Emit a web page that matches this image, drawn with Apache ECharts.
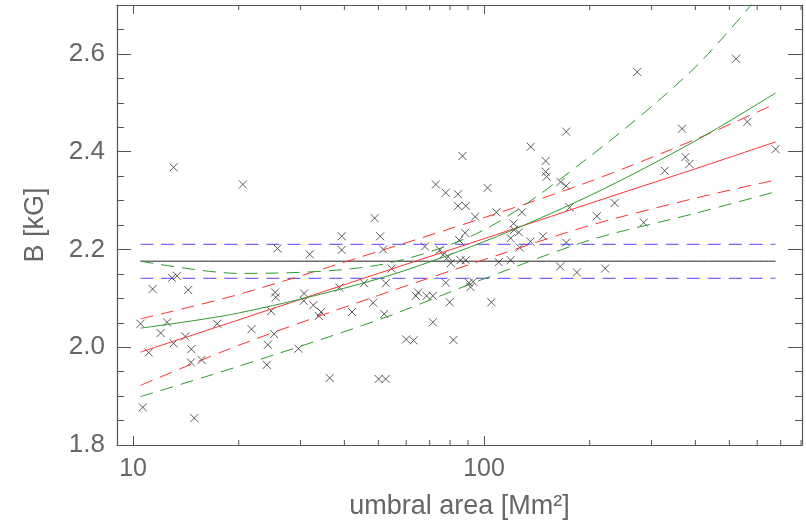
<!DOCTYPE html>
<html><head><meta charset="utf-8">
<script src="https://cdn.jsdelivr.net/npm/echarts@6/dist/echarts.min.js"></script>
<style>html,body{margin:0;background:#fff}#c{width:806px;height:527px}</style>
</head><body><div id="c"></div>
<script>
// umbral area [Mm^2] and B [kG]
var areas = [10.5,10.66,11.08,11.37,11.98,12.5,12.91,13.05,13.05,13.34,14.08,14.36,14.62,14.65,14.94,15.67,17.37,20.55,21.75,24.05,
  24.21,24.74,25.23,25.39,25.51,25.78,29.58,30.64,30.7,31.87,32.63,33.81,34.32,36.34,38.7,39.31,39.31,42.05,45.49,48.33,
  48.78,50.06,52.44,50.6,51.6,51.94,52.52,54.52,59.98,62.98,63.93,64.91,67.82,68.58,71.45,71.45,72.87,74.8,76.4,77.8,
  84.3,84.3,88.7,86.8,77.8,79.0,80.4,79.8,81.8,84.9,85.7,88.7,88.3,90.5,91.5,93.1,94.3,102.3,104.9,108.4,
  110.1,119.1,119.1,121.4,121.8,125.6,126.3,128.2,135.5,135.8,147.2,149.8,149.8,150.7,164.8,165.2,171.4,171.4,171.4,175.3,
  183.9,209.6,221.3,235.5,273.1,285,327.1,366.4,374.7,384.6,522.4,562.3,676.9];
var fields = [2.048,1.877,1.989,2.119,2.029,2.051,2.142,2.008,2.368,2.146,2.022,2.117,1.969,1.996,1.855,1.974,2.048,2.333,2.037,1.964,
  2.005,2.074,2.027,2.112,2.102,2.202,1.997,2.095,2.110,2.190,2.086,2.064,2.072,1.937,2.122,2.199,2.227,2.072,2.131,2.091,
  2.264,1.935,1.935,2.227,2.200,2.068,2.131,2.161,2.016,2.014,2.105,2.112,2.206,2.105,2.105,2.051,2.333,2.199,2.189,2.316,
  2.313,2.289,2.289,2.391,2.132,2.185,2.172,2.092,2.015,2.219,2.178,2.178,2.234,2.132,2.123,2.134,2.267,2.326,2.092,2.276,
  2.174,2.178,2.223,2.253,2.240,2.235,2.204,2.276,2.216,2.410,2.227,2.381,2.359,2.349,2.165,2.338,2.441,2.330,2.214,2.286,
  2.153,2.268,2.161,2.295,2.563,2.255,2.361,2.447,2.389,2.375,2.590,2.461,2.405];

// fit curves sampled at these areas
var fitX = [10.5,20,50,100,200,400,677];
var linFit = [1.990,2.056,2.151,2.222,2.294,2.365,2.420];
var linUp  = [2.058,2.108,2.196,2.265,2.339,2.425,2.498];
var linLo  = [1.922,2.004,2.106,2.179,2.249,2.305,2.342];
var quadFit = [2.039,2.070,2.140,2.216,2.310,2.422,2.520];
var quadUp  = [2.176,2.151,2.168,2.240,2.390,2.573,2.76];
var quadLo  = [1.899,1.961,2.056,2.140,2.219,2.274,2.318];
var meanB = 2.176, meanUp = 2.2105, meanLo = 2.141;

// log-axis minor tick positions
var minorTicksX = [20,30,40,50,60,70,80,90,200,300,400,500,600,700,800];

function pairs(xs, ys){ var r=[]; for(var i=0;i<xs.length;i++){ r.push([xs[i], ys[i]]); } return r; }
function flat(v){ return [[10.5,v],[676.9,v]]; }

var grey = '#555';
var font = 'Liberation Sans';
var chart = echarts.init(document.getElementById('c'));

function lineSeries(data, color, dashed){
  return { type:'line', data:data, smooth:0.3, symbol:'none', silent:true, clip:true,
    lineStyle:{color:color, width:1, type: dashed ? [13,8] : 'solid'} };
}

var xCommon = { type:'log', logBase:10, min:9, max:805,
  axisLine:{lineStyle:{color:grey, width:1.2}}, splitLine:{show:false},
  axisTick:{inside:true, length:9, lineStyle:{color:grey}} };
var yCommon = { type:'value', min:1.8, max:2.7, interval:0.2,
  axisLine:{lineStyle:{color:grey, width:1.2}}, splitLine:{show:false},
  axisTick:{inside:true, length:14, lineStyle:{color:grey}},
  minorTick:{show:true, splitNumber:4, length:7, lineStyle:{color:grey}} };

chart.setOption({
  animation:false,
  grid:{left:117, right:4, top:5, bottom:82},
  xAxis:[
    Object.assign({}, xCommon, { position:'bottom',
      name:'umbral area [Mm²]', nameLocation:'middle', nameGap:48,
      nameTextStyle:{color:'#666', fontSize:27, fontFamily:font},
      axisLabel:{color:'#666', fontSize:25, fontFamily:font, margin:12, showMinLabel:false, showMaxLabel:false,
        formatter:function(v){ return (Math.abs(v-10)<0.01||Math.abs(v-100)<0.1) ? String(Math.round(v)) : ''; }} }),
    Object.assign({}, xCommon, { position:'top', axisLabel:{show:false} })
  ],
  yAxis:[
    Object.assign({}, yCommon, { position:'left',
      name:'B [kG]', nameLocation:'middle', nameGap:68,
      nameTextStyle:{color:'#666', fontSize:27, fontFamily:font},
      axisLabel:{color:'#666', fontSize:26, fontFamily:font, margin:12, showMaxLabel:false,
        formatter:function(v){ return v.toFixed(1); }} }),
    Object.assign({}, yCommon, { position:'right', axisLabel:{show:false} })
  ],
  series:[
    lineSeries(flat(meanB), '#222', false),
    lineSeries(flat(meanUp), '#5a3cff', true),
    lineSeries(flat(meanLo), '#5a3cff', true),
    lineSeries(pairs(fitX, linFit), '#ff3030', false),
    lineSeries(pairs(fitX, linUp), '#ff3030', true),
    lineSeries(pairs(fitX, linLo), '#ff3030', true),
    lineSeries(pairs(fitX, quadFit), '#2e9a2e', false),
    lineSeries(pairs(fitX, quadUp), '#2e9a2e', true),
    lineSeries(pairs(fitX, quadLo), '#2e9a2e', true),
    { type:'scatter', data:pairs(areas, fields), symbol:'path://M0,0L10,10M10,0L0,10', symbolSize:8,
      itemStyle:{color:'none', borderColor:'#333', borderWidth:1} },
    { type:'custom', silent:true, clip:false, data:minorTicksX.map(function(v){ return [v, 1.8]; }),
      renderItem:function(params, api){
        var b = api.coord([api.value(0), 1.8]);
        var t = api.coord([api.value(0), 2.7]);
        var s = {stroke:grey, lineWidth:1};
        return { type:'group', children:[
          {type:'line', shape:{x1:b[0], y1:b[1], x2:b[0], y2:b[1]-5}, style:s},
          {type:'line', shape:{x1:t[0], y1:t[1], x2:t[0], y2:t[1]+5}, style:s}
        ]};
      } }
  ]
});
</script></body></html>
